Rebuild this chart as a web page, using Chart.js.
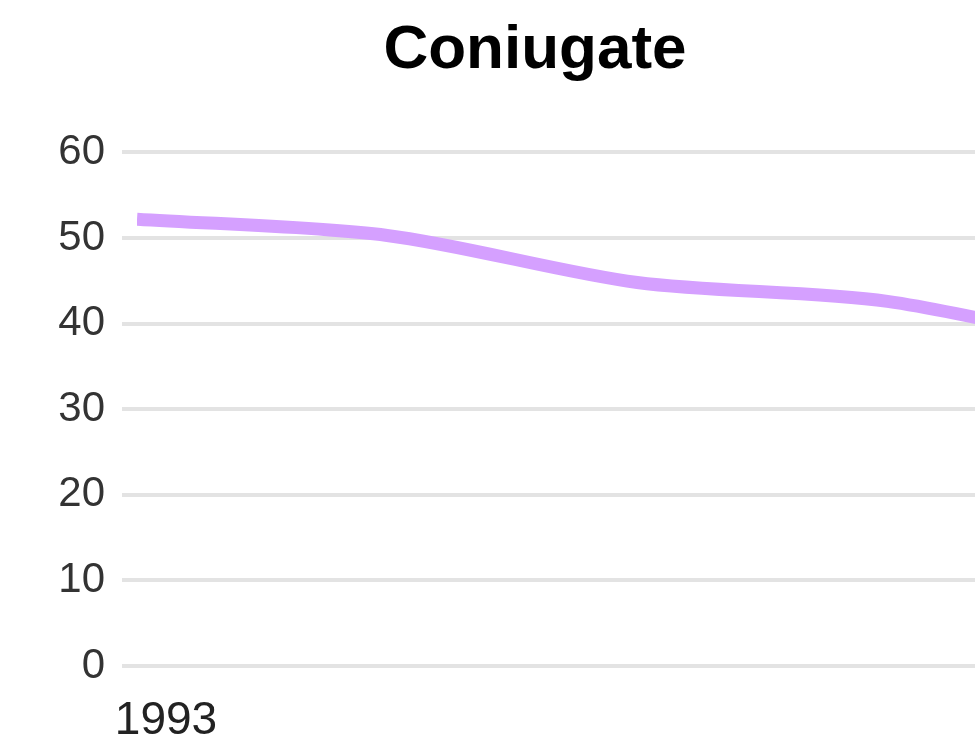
<!DOCTYPE html>
<html>
<head>
<meta charset="utf-8">
<script src="https://cdn.jsdelivr.net/npm/chart.js@4"></script>
<style>
    html, body { margin: 0; padding: 0; background: #fff; overflow: hidden; }
    #wrap { width: 1080px; height: 741px; }
</style>
</head>
<body>
<div id="wrap"><canvas id="chart" width="1080" height="741"></canvas></div>
<script>
// ── Data ──────────────────────────────────────────────────────────────────────

const years = [1993, 1994, 1995, 1996, 1997];
const coniugate = [52.2, 50.3, 44.8, 42.6, 36.6];
const yTicks = [0, 10, 20, 30, 40, 50, 60];
const xTicks = [1993];

const lineColor = 'rgb(213,160,255)';
const gridColor = '#e3e3e3';
const fontFamily = '"Liberation Sans", Arial, sans-serif';

// ── Chart ─────────────────────────────────────────────────────────────────────

new Chart(document.getElementById('chart'), {
    type: 'line',
    data: {
        datasets: [{
            label: 'Coniugate',
            data: years.map((y, i) => ({ x: y, y: coniugate[i] })),
            borderColor: lineColor,
            backgroundColor: lineColor,
            borderWidth: 13,
            pointRadius: 0,
            tension: 0.3,
            fill: false,
        }],
    },
    options: {
        responsive: false,
        devicePixelRatio: 1,
        animation: false,
        layout: { padding: { left: 0, right: 10, top: 0, bottom: 0 } },
        plugins: {
            legend: { display: false },
            tooltip: { enabled: false },
            title: {
                display: true,
                text: 'Coniugate',
                color: '#000',
                font: { family: fontFamily, size: 62, weight: 'bold' },
                padding: { top: 14, bottom: 64 },
            },
        },
        scales: {
            x: {
                type: 'linear',
                min: 1993,
                max: 1996.73,
                grid: { display: false, drawTicks: false },
                border: { display: false },
                afterBuildTicks(scale) { scale.ticks = xTicks.map((v) => ({ value: v })); },
                ticks: {
                    maxRotation: 0,
                    padding: 28,
                    labelOffset: 29,
                    color: '#222',
                    font: { family: fontFamily, size: 46 },
                    callback: (v) => String(v),
                },
                afterFit(scale) { scale.height = 75; },
            },
            y: {
                min: yTicks[0],
                max: yTicks[yTicks.length - 1],
                grid: { color: gridColor, lineWidth: 4, tickLength: 15 },
                border: { display: false },
                ticks: {
                    stepSize: 10,
                    padding: 17,
                    color: '#333',
                    font: { family: fontFamily, size: 42 },
                },
                afterFit(scale) { scale.width = 137; },
            },
        },
    },
});
</script>
</body>
</html>
